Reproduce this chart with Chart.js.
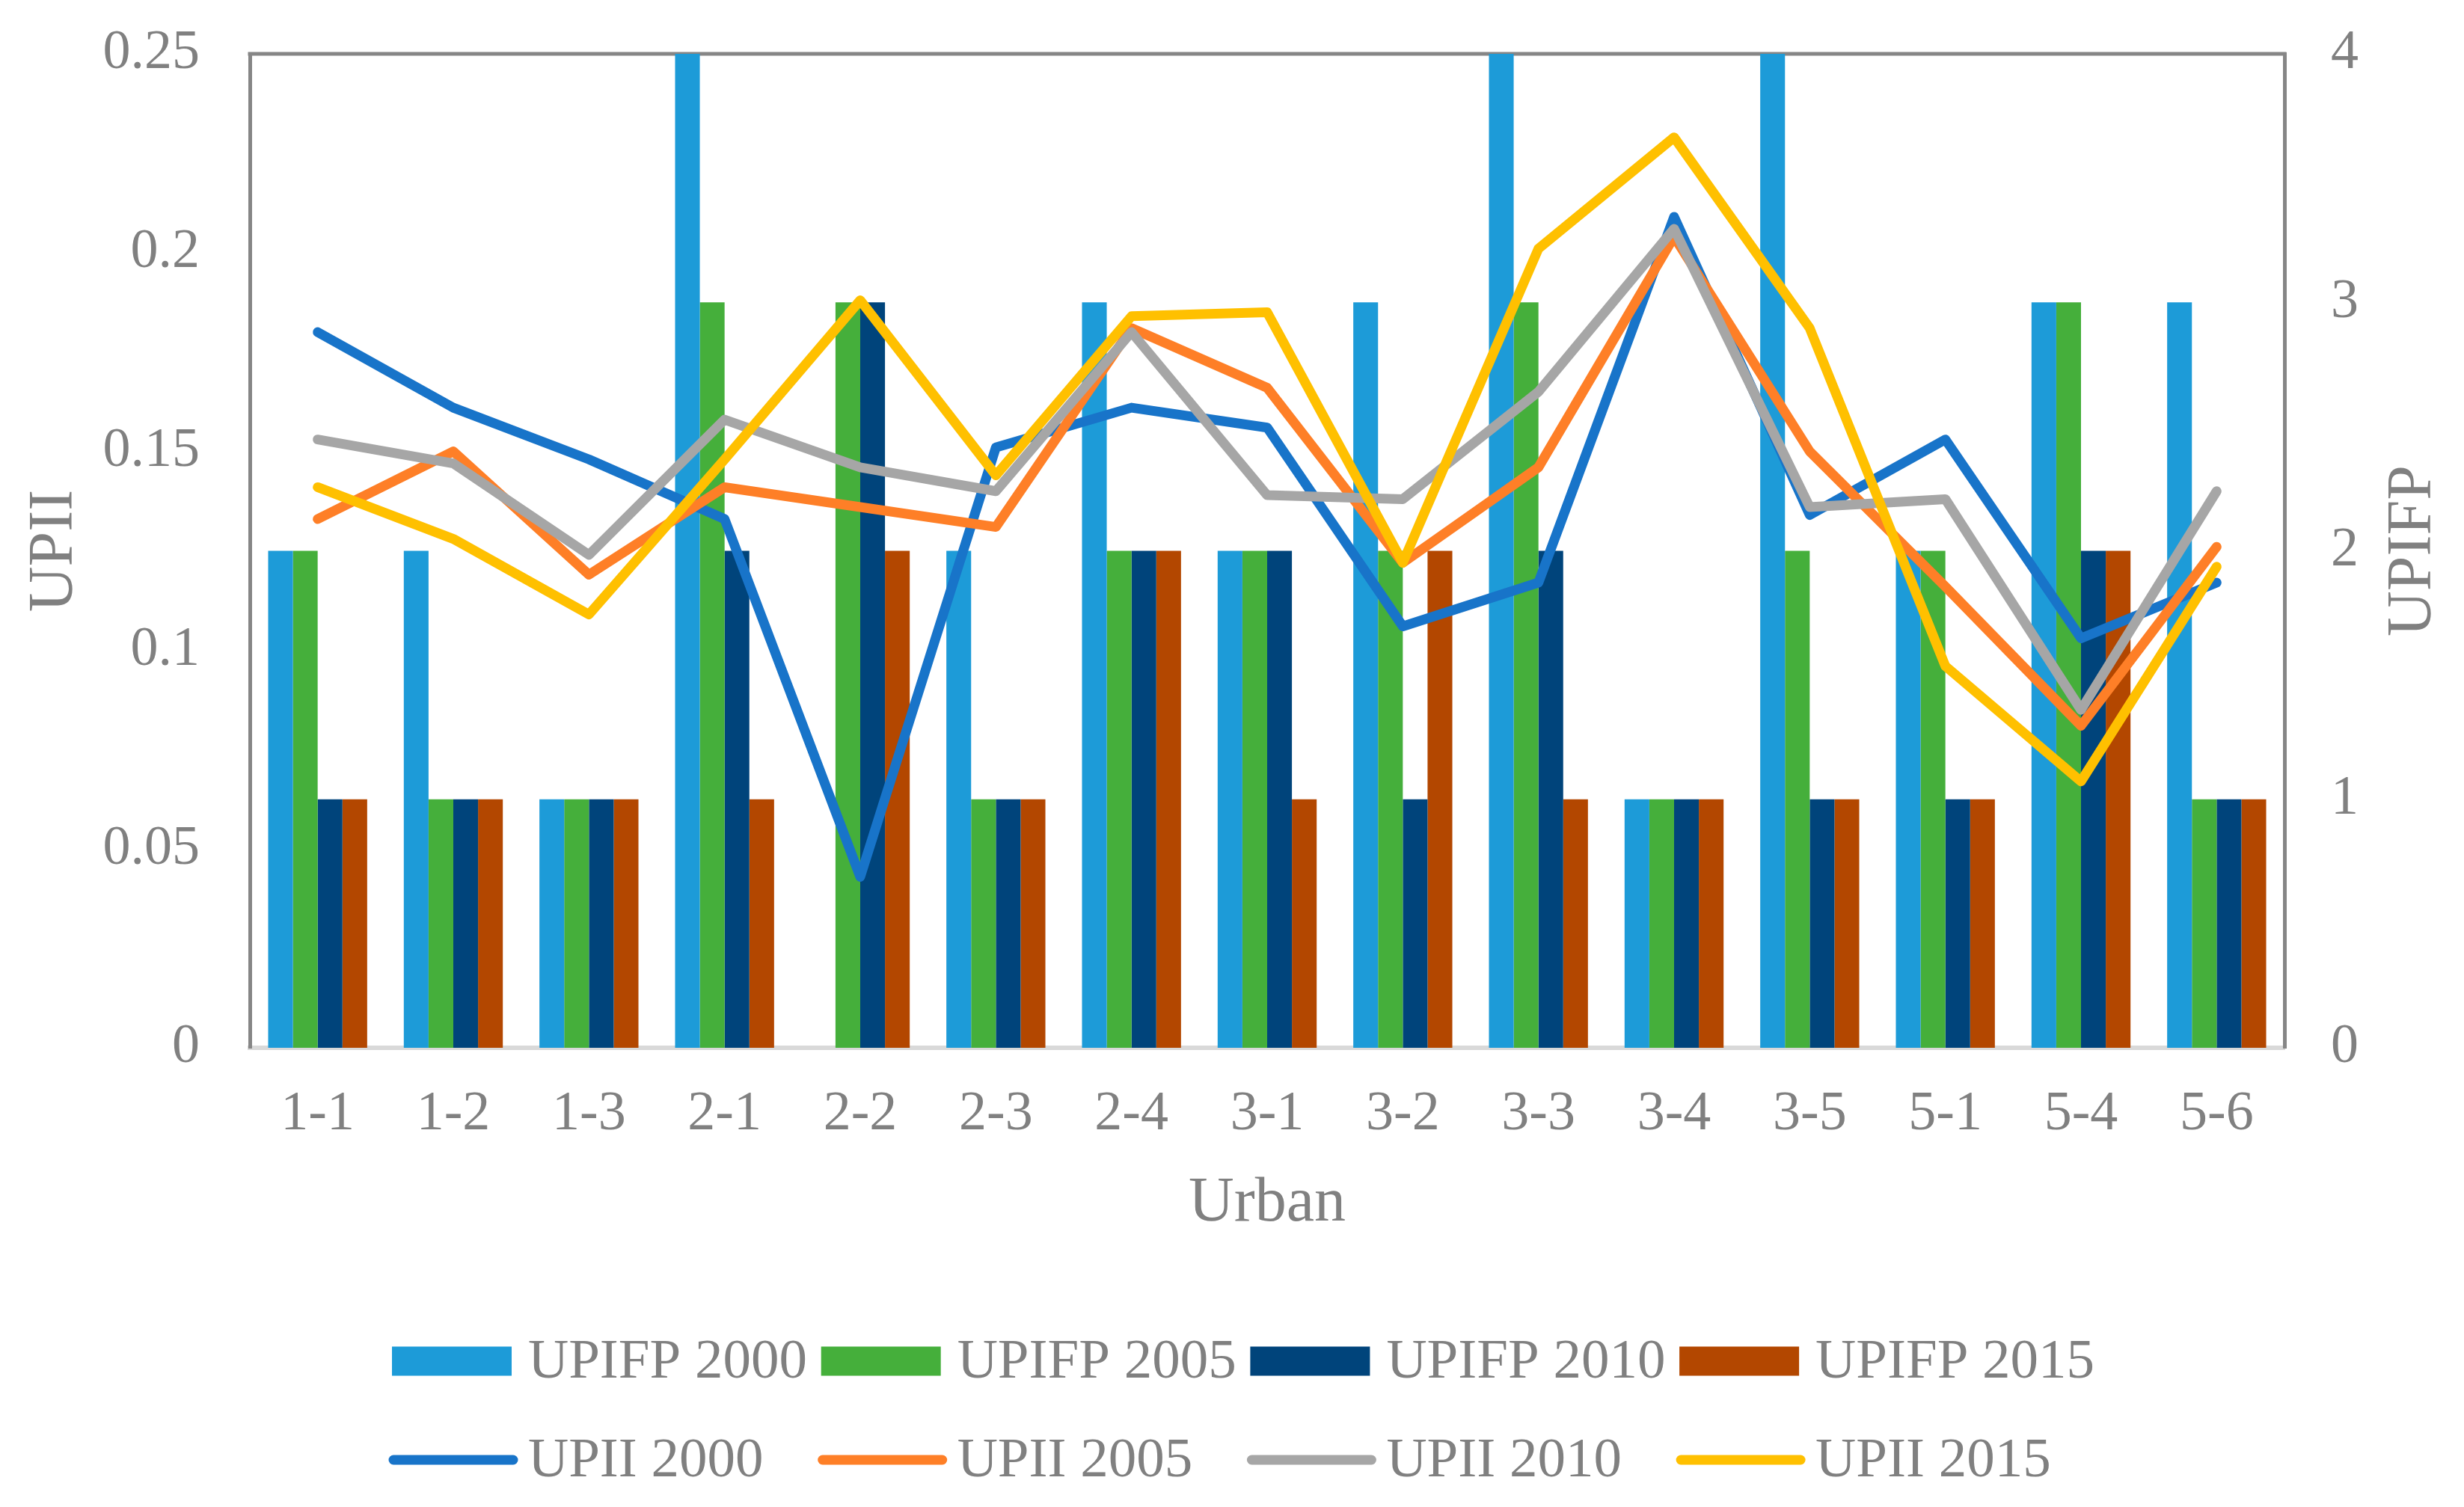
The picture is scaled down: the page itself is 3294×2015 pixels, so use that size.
<!DOCTYPE html>
<html>
<head>
<meta charset="utf-8">
<script src="https://cdn.jsdelivr.net/npm/chart.js@4/dist/chart.umd.min.js"></script>
<style>
  html, body { margin: 0; padding: 0; background: #fff; }
  #chart { display: block; }
</style>
</head>
<body>
<canvas id="chart" width="3294" height="2015"></canvas>
<script>
// categories (urban units)
var urban = ['1-1', '1-2', '1-3', '2-1', '2-2', '2-3', '2-4', '3-1', '3-2', '3-3', '3-4', '3-5', '5-1', '5-4', '5-6'];

// UPIFP bars (right axis)
var upifp2000 = [2, 2, 1, 4, 0, 2, 3, 2, 3, 4, 1, 4, 2, 3, 3];
var upifp2005 = [2, 1, 1, 3, 3, 1, 2, 2, 2, 3, 1, 2, 2, 3, 1];
var upifp2010 = [1, 1, 1, 2, 3, 1, 2, 2, 1, 2, 1, 1, 1, 2, 1];
var upifp2015 = [1, 1, 1, 1, 2, 1, 2, 1, 2, 1, 1, 1, 1, 2, 1];

// UPII lines (left axis)
var upii2000 = [0.180, 0.161, 0.148, 0.133, 0.043, 0.151, 0.161, 0.156, 0.106, 0.117, 0.209, 0.134, 0.153, 0.103, 0.117];
var upii2005 = [0.133, 0.150, 0.119, 0.141, 0.136, 0.131, 0.181, 0.166, 0.122, 0.146, 0.204, 0.150, 0.116, 0.081, 0.126];
var upii2010 = [0.153, 0.147, 0.124, 0.158, 0.146, 0.140, 0.180, 0.139, 0.138, 0.165, 0.206, 0.136, 0.138, 0.085, 0.140];
var upii2015 = [0.141, 0.128, 0.109, 0.148, 0.188, 0.144, 0.184, 0.185, 0.122, 0.201, 0.229, 0.181, 0.096, 0.067, 0.121];

var TEXT = '#808080';
Chart.defaults.font.family = '"Liberation Serif", "Times New Roman", serif';
Chart.defaults.color = TEXT;

function bar(label, data, color) {
  return { type: 'bar', label: label, data: data, yAxisID: 'y1', backgroundColor: color,
           borderWidth: 0, categoryPercentage: 0.73, barPercentage: 1.0, order: 10 };
}
function line(label, data, color, order) {
  return { type: 'line', label: label, data: data, yAxisID: 'y', borderColor: color, backgroundColor: color,
           borderWidth: 13, pointRadius: 0, tension: 0, fill: false,
           borderCapStyle: 'round', borderJoinStyle: 'round', order: order };
}

// frame top line, right-hand title and the two-row legend
var extras = {
  id: 'extras',
  beforeDatasetsDraw: function (chart) {
    var a = chart.chartArea, ctx = chart.ctx;
    ctx.save();
    ctx.strokeStyle = '#868686';
    ctx.lineWidth = 5;
    ctx.beginPath();
    ctx.moveTo(a.left - 2.5, a.top);
    ctx.lineTo(a.right + 2.5, a.top);
    ctx.stroke();
    ctx.restore();
  },
  afterDraw: function (chart) {
    var a = chart.chartArea, ctx = chart.ctx;
    ctx.save();
    // right axis title, reading bottom to top
    ctx.fillStyle = TEXT;
    ctx.font = '84px "Liberation Serif"';
    ctx.textAlign = 'center';
    ctx.textBaseline = 'middle';
    ctx.translate(3227, (a.top + a.bottom) / 2);
    ctx.rotate(-Math.PI / 2);
    ctx.fillText('UPIFP', 0, 0);
    ctx.restore();

    // legend
    ctx.save();
    ctx.font = '75px "Liberation Serif"';
    ctx.textAlign = 'left';
    ctx.textBaseline = 'middle';
    var colW = 573.7, x0 = chart.width / 2 - 1123;
    var rows = [a.bottom + 419, a.bottom + 551];
    chart.data.datasets.forEach(function (ds, i) {
      var col = i % 4, row = i < 4 ? 0 : 1;
      var x = x0 + col * colW, y = rows[row];
      if (ds.type === 'bar') {
        ctx.fillStyle = ds.backgroundColor;
        ctx.fillRect(x, y - 19.5, 160, 39);
      } else {
        ctx.strokeStyle = ds.borderColor;
        ctx.lineWidth = 13;
        ctx.lineCap = 'round';
        ctx.beginPath();
        ctx.moveTo(x + 2, y);
        ctx.lineTo(x + 162, y);
        ctx.stroke();
      }
      ctx.fillStyle = TEXT;
      ctx.fillText(ds.label, x + 182, y + 2);
    });
    ctx.restore();
  }
};

var ctx = document.getElementById('chart').getContext('2d');
var myChart = new Chart(ctx, {
  data: {
    labels: urban,
    datasets: [
      bar('UPIFP 2000', upifp2000, '#1D9BD8'),
      bar('UPIFP 2005', upifp2005, '#45AF3B'),
      bar('UPIFP 2010', upifp2010, '#00447B'),
      bar('UPIFP 2015', upifp2015, '#B34700'),
      line('UPII 2000', upii2000, '#1874C9', 4),
      line('UPII 2005', upii2005, '#FE7F27', 3),
      line('UPII 2010', upii2010, '#A6A6A6', 2),
      line('UPII 2015', upii2015, '#FFC000', 1)
    ]
  },
  options: {
    responsive: false,
    animation: false,
    devicePixelRatio: 1,
    layout: { padding: { top: 72, left: 0, right: 0, bottom: 355 } },
    plugins: { legend: { display: false }, tooltip: { enabled: false } },
    scales: {
      x: {
        grid: { display: false, drawTicks: true, tickLength: 45 },
        border: { display: true, color: '#D9D9D9', width: 6 },
        ticks: { font: { size: 74 }, padding: 0, maxRotation: 0, autoSkip: false },
        title: { display: true, text: 'Urban', font: { size: 84 }, padding: { top: 0, bottom: 0 } },
        afterFit: function (s) { s.height = 259; }
      },
      y: {
        position: 'left',
        min: 0, max: 0.25,
        grid: { display: false, drawTicks: true, tickLength: 67 },
        border: { display: true, color: '#868686', width: 5 },
        ticks: { stepSize: 0.05, font: { size: 74 }, padding: 0,
                 callback: function (v) { return String(+v.toFixed(2)); } },
        title: { display: true, text: 'UPII', font: { size: 84 }, padding: { top: 24, bottom: 0 } },
        afterFit: function (s) { s.width = 334; }
      },
      y1: {
        position: 'right',
        min: 0, max: 4,
        grid: { display: false, drawTicks: true, tickLength: 62 },
        border: { display: true, color: '#868686', width: 5 },
        ticks: { stepSize: 1, font: { size: 74 }, padding: 0 },
        afterFit: function (s) { s.width = 240; }
      }
    }
  },
  plugins: [extras]
});
</script>
</body>
</html>
